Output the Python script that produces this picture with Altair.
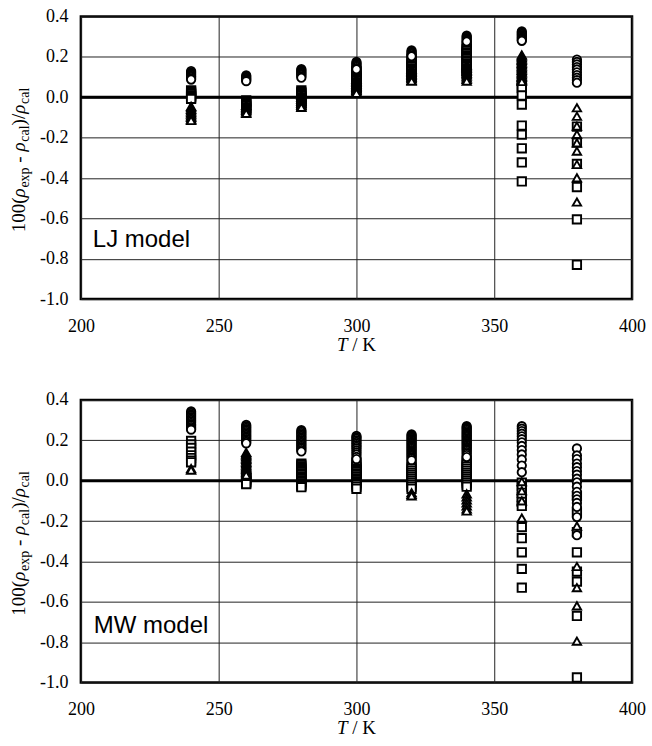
import altair as alt
import pandas as pd

# ---------------- data ----------------
X_TICKS = [200, 250, 300, 350, 400]
Y_TICKS = [-1.0, -0.8, -0.6, -0.4, -0.2, 0.0, 0.2, 0.4]

lj_circles = {
    240: [0.130, 0.124, 0.118, 0.112, 0.106, 0.100, 0.094, 0.088],
    260: [0.108, 0.102, 0.096, 0.090, 0.085, 0.080],
    280: [0.140, 0.134, 0.128, 0.122, 0.116, 0.110, 0.104, 0.097],
    300: [0.175, 0.169, 0.163, 0.157, 0.151, 0.145, 0.139],
    320: [0.232, 0.226, 0.220, 0.214, 0.208, 0.203],
    340: [0.305, 0.299, 0.293, 0.287, 0.281, 0.276],
    360: [0.326, 0.320, 0.314, 0.308, 0.302, 0.296, 0.290, 0.284, 0.280],
    380: [0.187, 0.175, 0.163, 0.150, 0.138, 0.124, 0.110, 0.097, 0.085, 0.072],
}
lj_squares = {
    240: [0.034, 0.028, 0.022, 0.016, 0.010, 0.004, -0.002, -0.008],
    260: [-0.015, -0.022, -0.029, -0.036, -0.043, -0.050, -0.057, -0.064],
    280: [0.034, 0.027, 0.020, 0.013, 0.006, 0.000, -0.006, -0.012, -0.018, -0.025, -0.032, -0.040, -0.046],
    300: [0.130, 0.123, 0.116, 0.109, 0.102, 0.095, 0.088, 0.081, 0.074, 0.067, 0.060, 0.053, 0.046, 0.040, 0.034],
    320: [0.190, 0.182, 0.174, 0.166, 0.158, 0.150, 0.142, 0.134, 0.126, 0.118, 0.110, 0.102, 0.095],
    340: [0.255, 0.247, 0.239, 0.231, 0.223, 0.215, 0.207, 0.199, 0.191, 0.183, 0.175, 0.167, 0.159, 0.151, 0.143, 0.135, 0.127, 0.120],
    360: [0.060, 0.045, 0.009, -0.036, -0.140, -0.185, -0.253, -0.323, -0.417],
    380: [-0.145, -0.225, -0.330, -0.445, -0.605, -0.830],
}
lj_triangles = {
    240: [-0.045, -0.052, -0.060, -0.068, -0.076, -0.084, -0.092, -0.100, -0.108, -0.115],
    260: [-0.040, -0.048, -0.056, -0.064, -0.072, -0.080],
    280: [0.010, 0.000, -0.010, -0.020, -0.030, -0.040, -0.050],
    300: [0.090, 0.082, 0.074, 0.066, 0.058, 0.050, 0.042, 0.034, 0.026, 0.020],
    320: [0.140, 0.132, 0.124, 0.116, 0.108, 0.100, 0.092, 0.084, 0.080],
    340: [0.160, 0.152, 0.144, 0.136, 0.128, 0.120, 0.112, 0.104, 0.096, 0.088, 0.080],
    360: [0.210, 0.203, 0.196, 0.189, 0.182, 0.175, 0.168, 0.161, 0.154, 0.147, 0.140, 0.133,
          0.126, 0.119, 0.112, 0.105, 0.098, 0.091, 0.084, 0.078],
    380: [-0.052, -0.094, -0.143, -0.184, -0.226, -0.267, -0.333, -0.399, -0.519],
}

mw_circles = {
    240: [0.343, 0.336, 0.329, 0.322, 0.315, 0.308, 0.301, 0.294, 0.287, 0.280, 0.273, 0.266, 0.259, 0.253],
    260: [0.276, 0.269, 0.262, 0.255, 0.248, 0.241, 0.234, 0.227, 0.220, 0.213, 0.206, 0.199, 0.192, 0.185],
    280: [0.250, 0.243, 0.236, 0.229, 0.222, 0.215, 0.208, 0.201, 0.194, 0.187, 0.180, 0.173, 0.166, 0.159, 0.152, 0.145],
    300: [0.222, 0.215, 0.208, 0.200, 0.192, 0.184, 0.176, 0.168, 0.160, 0.150, 0.140, 0.130, 0.118, 0.107],
    320: [0.230, 0.224, 0.218, 0.212, 0.206, 0.200, 0.194, 0.188, 0.182, 0.176, 0.170, 0.164, 0.158,
          0.152, 0.146, 0.140, 0.134, 0.128, 0.122, 0.116, 0.110, 0.102],
    340: [0.270, 0.264, 0.258, 0.252, 0.246, 0.240, 0.234, 0.228, 0.222, 0.216, 0.210, 0.204, 0.198,
          0.192, 0.186, 0.180, 0.174, 0.168, 0.162, 0.156, 0.150, 0.142, 0.135, 0.127, 0.117],
    360: [0.270, 0.258, 0.246, 0.233, 0.220, 0.206, 0.190, 0.172, 0.152, 0.130, 0.105, 0.075, 0.042],
    380: [0.160, 0.125, 0.107, 0.085, 0.067, 0.048, 0.030, 0.010, -0.008, -0.030, -0.055, -0.075,
          -0.092, -0.110, -0.130, -0.180, -0.270],
}
mw_squares = {
    240: [0.197, 0.180, 0.162, 0.144, 0.126, 0.112, 0.100, 0.091],
    260: [0.022, 0.015, 0.008, 0.001, -0.006, -0.012, -0.017],
    280: [0.085, 0.078, 0.071, 0.064, 0.057, 0.050, 0.043, 0.036, 0.029, 0.022, 0.015, 0.008, 0.001,
          -0.006, -0.013, -0.020, -0.026, -0.032],
    300: [0.090, 0.080, 0.070, 0.060, 0.052, 0.044, 0.036, 0.028, 0.020, 0.012, 0.004, -0.004, -0.012,
          -0.020, -0.030, -0.040],
    320: [0.080, 0.070, 0.060, 0.050, 0.040, 0.030, 0.020, 0.010, 0.000, -0.010, -0.020, -0.030, -0.040],
    340: [0.100, 0.090, 0.080, 0.070, 0.060, 0.050, 0.040, 0.030, 0.020, 0.010, 0.000, -0.010, -0.020, -0.030],
    360: [-0.010, -0.027, -0.060, -0.080, -0.105, -0.125, -0.230, -0.285, -0.355, -0.437, -0.530],
    380: [-0.075, -0.157, -0.255, -0.355, -0.450, -0.500, -0.670, -0.975],
}
mw_triangles = {
    240: [0.060, 0.052],
    260: [0.140, 0.133, 0.126, 0.119, 0.112, 0.105, 0.098, 0.091, 0.084, 0.077, 0.070, 0.063, 0.056,
          0.049, 0.042, 0.035, 0.028],
    320: [-0.060, -0.068, -0.075],
    340: [-0.065, -0.080, -0.095, -0.110, -0.125, -0.140, -0.150],
    360: [-0.005, -0.050, -0.100, -0.185],
    380: [-0.225, -0.425, -0.530, -0.620, -0.795],
}

# ---------------- layout / style ----------------
W, H = 552, 283
SERIF = "Liberation Serif"
SANS = "Liberation Sans"
MAIN_FS, SUB_FS = 19, 14
MARK_SIZE = 70


def to_frame(d):
    rows = [(t, v) for t, vals in d.items() for v in vals]
    return pd.DataFrame(rows, columns=["T", "v"])


x_enc = alt.X("T:Q", scale=alt.Scale(domain=[200, 400], nice=False, zero=False),
              axis=alt.Axis(values=X_TICKS, title=None, grid=True, ticks=False, domain=False,
                            labelPadding=18, labelFlush=False, labelOverlap=False, format="d"))
y_enc = alt.Y("v:Q", scale=alt.Scale(domain=[-1.0, 0.4], nice=False, zero=False),
              axis=alt.Axis(values=Y_TICKS, title=None, grid=True, ticks=False, domain=False,
                            labelPadding=13, labelOverlap=False, labelFlush=False,
                            labelExpr="datum.value < -0.001 ? '-' + format(-datum.value, '.1f') : format(abs(datum.value), '.1f')"))

# approximate glyph advance widths (em) for Times-like serif, for placing title pieces
CW = {'0': .5, '1': .5, '(': .333, ')': .333, '/': .278, '-': .333, 'e': .444, 'x': .5,
      'p': .5, 'c': .444, 'a': .444, 'l': .278, 'ρ': .52, 'T': .556, 'K': .722, ' ': .25}


def tw(s, fs):
    return sum(CW.get(ch, .5) for ch in s) * fs


def text_piece(txt, x, y, fs, italic=False, angle=0, font=SERIF):
    kw = dict(font=font, fontSize=fs, align="left", baseline="alphabetic", color="black")
    if italic:
        kw["fontStyle"] = "italic"
    if angle:
        kw["angle"] = angle
    return alt.Chart(pd.DataFrame({"t": [txt]})).mark_text(**kw).encode(
        text="t:N", x=alt.value(x), y=alt.value(y))


def y_title_layers():
    # (text, kind, gap_before_em, gap_after_em)
    pieces = [("100(", "main", 0, 0), ("ρ", "rho", 0, 0), ("exp", "sub", 0, 0),
              ("-", "main", .25, .25), ("ρ", "rho", 0, 0), ("cal", "sub", 0, 0),
              (")/", "main", 0, 0), ("ρ", "rho", 0, 0), ("cal", "sub", 0, 0)]
    cur = 216.0
    layers = []
    for txt, kind, gb, ga in pieces:
        fs = SUB_FS if kind == "sub" else MAIN_FS
        cur -= gb * MAIN_FS
        xx = -52 if kind == "sub" else -56
        layers.append(text_piece(txt, xx, cur, fs, italic=(kind == "rho"), angle=270))
        cur -= tw(txt, fs) + ga * MAIN_FS
    return layers


def x_title_layers():
    total = tw("T", MAIN_FS) + tw(" / K", MAIN_FS)
    x0 = W / 2 - total / 2
    yb = H + 52
    return [text_piece("T", x0, yb, MAIN_FS, italic=True),
            text_piece("/ K", x0 + tw("T ", MAIN_FS), yb, MAIN_FS)]


def panel(circles, squares, triangles, label, lx, ly):
    zero = alt.Chart(pd.DataFrame({"v": [0.0]})).mark_rule(
        color="black", strokeWidth=3).encode(y=y_enc)

    def pts(d, shape):
        return alt.Chart(to_frame(d)).mark_point(
            shape=shape, filled=True, fill="white", stroke="black",
            strokeWidth=1.9, size=MARK_SIZE, opacity=1).encode(x=x_enc, y=y_enc)

    layers = [zero,
              pts(squares, "square"),
              pts(triangles, "triangle-up"),
              pts(circles, "circle"),
              text_piece(label, lx, ly, 24, font=SANS)]
    layers += y_title_layers() + x_title_layers()
    return alt.layer(*layers).properties(width=W, height=H)


top = panel(lj_circles, lj_squares, lj_triangles, "LJ model", 12, 231)
bottom = panel(mw_circles, mw_squares, mw_triangles, "MW model", 13, 233)

chart = alt.vconcat(top, bottom, spacing=32).properties(
    padding={"left": 8, "right": 5, "top": 5, "bottom": 5}
).configure_view(stroke="black", strokeWidth=2.5).configure_axis(
    labelFont=SERIF, labelFontSize=18, labelColor="black",
    gridColor="#222222", gridWidth=1, gridOpacity=1
)

chart.save("out.html", embed_options={"renderer": "svg", "actions": False})
